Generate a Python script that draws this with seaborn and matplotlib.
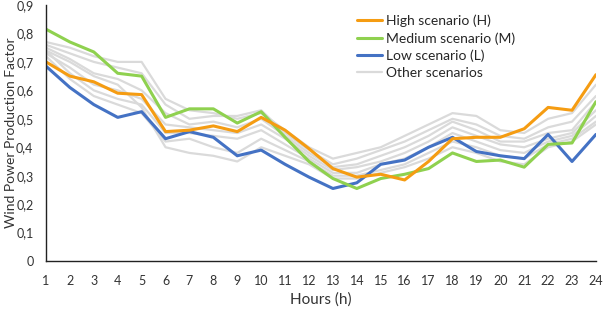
import matplotlib
matplotlib.use("Agg")
import matplotlib.pyplot as plt
import seaborn as sns
import pandas as pd

# Data
hours = list(range(1, 25))

high = [0.70, 0.65, 0.63, 0.59, 0.585, 0.455, 0.46, 0.475, 0.455, 0.505, 0.46, 0.395,
        0.325, 0.295, 0.305, 0.285, 0.35, 0.43, 0.435, 0.435, 0.465, 0.54, 0.53, 0.655]
medium = [0.815, 0.77, 0.735, 0.66, 0.65, 0.505, 0.535, 0.535, 0.485, 0.525, 0.435, 0.35,
          0.29, 0.255, 0.29, 0.305, 0.325, 0.38, 0.35, 0.355, 0.33, 0.41, 0.415, 0.56]
low = [0.685, 0.61, 0.55, 0.505, 0.525, 0.43, 0.455, 0.435, 0.37, 0.39, 0.34, 0.295,
       0.255, 0.275, 0.34, 0.355, 0.40, 0.435, 0.385, 0.37, 0.36, 0.445, 0.35, 0.445]

other_1 = [0.77, 0.75, 0.72, 0.70, 0.70, 0.57, 0.53, 0.52, 0.50, 0.52, 0.46, 0.40,
           0.36, 0.38, 0.40, 0.44, 0.48, 0.52, 0.51, 0.46, 0.45, 0.50, 0.52, 0.62]
other_2 = [0.76, 0.73, 0.70, 0.68, 0.66, 0.55, 0.50, 0.51, 0.51, 0.53, 0.45, 0.39,
           0.34, 0.36, 0.39, 0.42, 0.46, 0.50, 0.48, 0.44, 0.43, 0.47, 0.49, 0.58]
other_3 = [0.75, 0.71, 0.66, 0.64, 0.60, 0.52, 0.48, 0.49, 0.47, 0.50, 0.44, 0.38,
           0.33, 0.34, 0.37, 0.40, 0.44, 0.49, 0.46, 0.42, 0.42, 0.45, 0.46, 0.56]
other_4 = [0.73, 0.68, 0.62, 0.60, 0.57, 0.48, 0.47, 0.46, 0.45, 0.48, 0.43, 0.37,
           0.32, 0.33, 0.35, 0.38, 0.42, 0.47, 0.44, 0.41, 0.40, 0.43, 0.45, 0.53]
other_5 = [0.74, 0.66, 0.60, 0.57, 0.55, 0.45, 0.45, 0.44, 0.43, 0.46, 0.41, 0.36,
           0.31, 0.31, 0.34, 0.36, 0.40, 0.45, 0.42, 0.39, 0.38, 0.42, 0.44, 0.51]
other_6 = [0.72, 0.64, 0.58, 0.55, 0.52, 0.42, 0.43, 0.40, 0.38, 0.43, 0.39, 0.35,
           0.30, 0.30, 0.32, 0.34, 0.38, 0.42, 0.40, 0.37, 0.36, 0.41, 0.43, 0.49]
other_7 = [0.74, 0.70, 0.65, 0.62, 0.54, 0.40, 0.38, 0.37, 0.35, 0.40, 0.37, 0.34,
           0.29, 0.29, 0.31, 0.33, 0.36, 0.40, 0.38, 0.35, 0.34, 0.40, 0.42, 0.48]
others = [other_1, other_2, other_3, other_4, other_5, other_6, other_7]

y_ticks = [0, 0.1, 0.2, 0.3, 0.4, 0.5, 0.6, 0.7, 0.8, 0.9]
y_labels = ["0", "0,1", "0,2", "0,3", "0,4", "0,5", "0,6", "0,7", "0,8", "0,9"]

sns.set_style("white")
plt.rcParams["font.family"] = ["Lato", "DejaVu Sans"]

fig = plt.figure(figsize=(6.05, 3.13), dpi=100)
ax = fig.add_axes([0.076, 0.166, 0.909, 0.818])

# grey background scenarios
for i, series in enumerate(others):
    df = pd.DataFrame({"hour": hours, "value": series})
    sns.lineplot(data=df, x="hour", y="value", ax=ax, color="#dadada", linewidth=1.6,
                 label="Other scenarios" if i == 0 else "_nolegend_")

main = [("Low scenario (L)", low, "#4472c4"),
        ("Medium scenario (M)", medium, "#8fd14f"),
        ("High scenario (H)", high, "#f59c12")]
for name, series, col in main:
    df = pd.DataFrame({"hour": hours, "value": series})
    sns.lineplot(data=df, x="hour", y="value", ax=ax, color=col, linewidth=2.2, label=name)

ax.set_xlim(1, 24)
ax.set_ylim(0, 0.9)
ax.set_xticks(hours)
ax.set_xticklabels([str(h) for h in hours])
ax.set_yticks(y_ticks)
ax.set_yticklabels(y_labels)
ax.tick_params(axis="x", direction="in", length=4, width=0.8, pad=10, labelsize=9)
ax.tick_params(axis="y", direction="out", length=3, width=0.8, pad=6, labelsize=9)
for lbl in ax.get_xticklabels() + ax.get_yticklabels():
    lbl.set_color("#333333")

sns.despine(ax=ax)
ax.spines["left"].set_color("#222222")
ax.spines["bottom"].set_color("#222222")
ax.spines["left"].set_linewidth(1.0)
ax.spines["bottom"].set_linewidth(1.0)

ax.set_xlabel("Hours (h)", fontsize=11, color="#333333", labelpad=4)
ax.set_ylabel("Wind Power Production Factor", fontsize=10, color="#333333")
ax.yaxis.set_label_coords(-0.052, 0.5)

handles, labels = ax.get_legend_handles_labels()
order = ["High scenario (H)", "Medium scenario (M)", "Low scenario (L)", "Other scenarios"]
hmap = dict(zip(labels, handles))
ax.legend([hmap[k] for k in order], order, loc="upper left", bbox_to_anchor=(0.551, 0.995),
          frameon=False, fontsize=10, handlelength=1.8, handletextpad=0.25,
          labelspacing=0.35, borderaxespad=0.2)

fig.savefig("out.png", dpi=100)
